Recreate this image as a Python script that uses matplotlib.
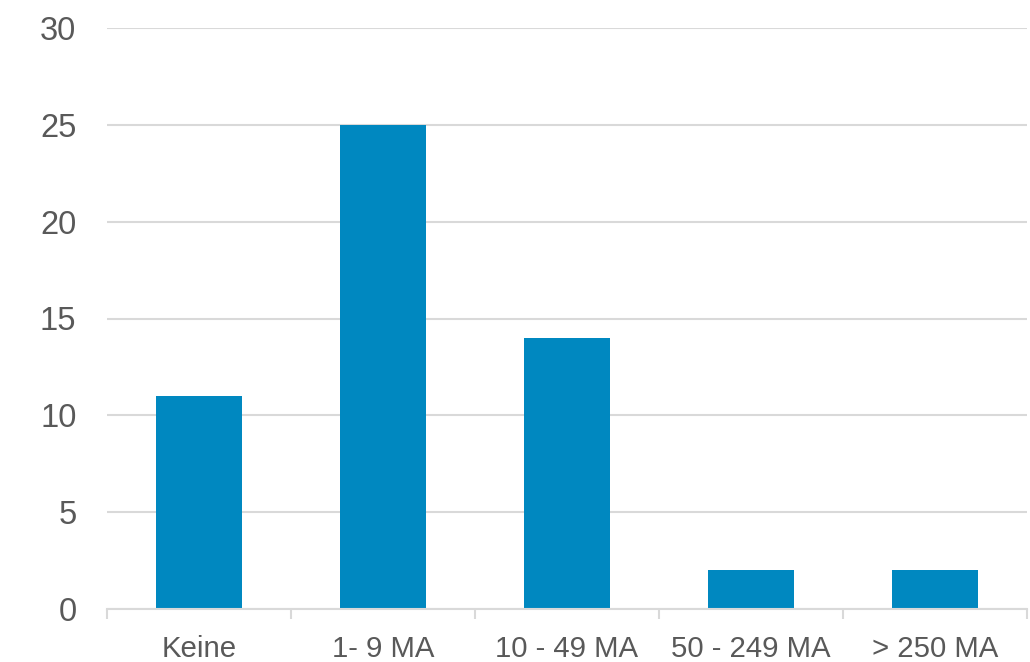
import matplotlib
matplotlib.use("Agg")
import matplotlib.pyplot as plt
import numpy as np

# Company size classes and counts
categories = ["Keine", "1- 9 MA", "10 - 49 MA", "50 - 249 MA", "> 250 MA"]
counts = [11, 25, 14, 2, 2]
y_ticks = [0, 5, 10, 15, 20, 25, 30]

BAR_COLOR = "#0088C0"
GRID_COLOR = "#D9D9D9"
TEXT_COLOR = "#595959"

plt.rcParams["font.family"] = ["Liberation Sans", "DejaVu Sans"]

fig = plt.figure(figsize=(10.30, 6.62), dpi=100)
ax = fig.add_axes([107 / 1030, 1 - 609 / 662, 920 / 1030, (609 - 28) / 662])

x = np.arange(len(categories))
ax.bar(x, counts, width=0.47, color=BAR_COLOR, zorder=3)

ax.set_xlim(-0.5, len(categories) - 0.5)
ax.set_ylim(0, 30)
ax.set_yticks(y_ticks)
ax.yaxis.grid(True, color=GRID_COLOR, linewidth=1.5, zorder=0)

# category labels centred, tick marks on category borders
ax.set_xticks(x)
ax.set_xticklabels(categories)
ax.set_xticks(np.arange(len(categories) + 1) - 0.5, minor=True)
ax.tick_params(axis="x", which="major", length=0, pad=19, labelsize=21.2, labelcolor=TEXT_COLOR)
ax.tick_params(axis="x", which="minor", length=7.5, width=1.5, color=GRID_COLOR, direction="out")
ax.tick_params(axis="y", length=0, pad=22, labelsize=23.5, labelcolor=TEXT_COLOR)

for side in ["top", "right", "left"]:
    ax.spines[side].set_visible(False)
ax.spines["bottom"].set_color(GRID_COLOR)
ax.spines["bottom"].set_linewidth(1.5)
ax.spines["bottom"].set_zorder(4)

fig.savefig("out.png", dpi=100)
